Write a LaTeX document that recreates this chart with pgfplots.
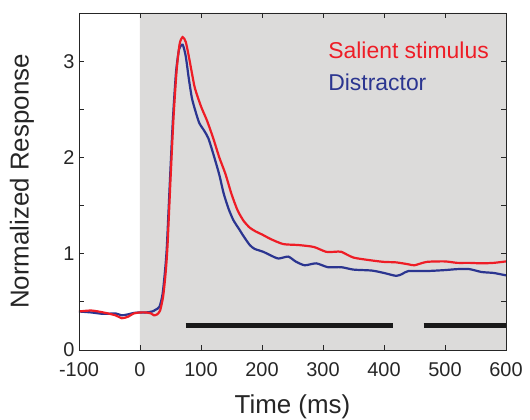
\documentclass[border=0pt]{standalone}
\usepackage{pgfplots}
\pgfplotsset{compat=1.18}
\usepackage{fontspec}
\setmainfont{Liberation Sans}
\definecolor{shade}{HTML}{DCDBDA}
\definecolor{salient}{HTML}{EE1D26}
\definecolor{distr}{HTML}{2B3590}
\begin{document}
\begin{tikzpicture}
\path[use as bounding box] (-79bp,-70bp) rectangle (451bp,350bp);
\begin{axis}[
    scale only axis,
    width=427bp, height=337bp,
    xmin=-100, xmax=600, ymin=0, ymax=3.5,
    axis on top,
    axis line style={line width=0.8bp, black!85},
    tick style={line width=0.8bp, black!85},
    tick align=inside,
    major tick length=5bp,
    xtick={-100,0,100,200,300,400,500,600},
    xticklabels={-100,0,100,200,300,400,500,600},
    ytick={0,0.5,1,1.5,2,2.5,3},
    yticklabels={0,,1,,2,,3},
    ticklabel style={font=\fontsize{20}{24}\selectfont, black!85},
    xticklabel style={yshift=-9bp},
    yticklabel style={xshift=-1bp},
    xlabel={Time (ms)},
    ylabel={Normalized Response},
    label style={font=\fontsize{26}{30}\selectfont, black!85},
    xlabel style={at={(axis description cs:0.5,-0.169)}, anchor=center},
    ylabel style={at={(axis description cs:-0.1335,0.5)}, anchor=center},
]
% stimulus period shading
\addplot[draw=none, fill=shade] coordinates {(0,0) (600,0) (600,3.5) (0,3.5)} \closedcycle;

% significance bars
\addplot[line width=5bp, black!90] coordinates {(75,0.25) (414,0.25)};
\addplot[line width=5bp, black!90] coordinates {(465,0.25) (600,0.25)};

% Distractor
\addplot[distr, line width=2.2bp, smooth, tension=0.4] coordinates {
(-100,0.40) (-80,0.39) (-60,0.375) (-40,0.38) (-30,0.36) (-20,0.37) (-10,0.385) (0,0.39)
(10,0.39) (20,0.40) (26,0.42) (32,0.45) (37,0.58) (41,0.82) (44,1.07) (49,1.75)
(54,2.40) (59,2.88) (64,3.12) (70,3.17) (75,3.05) (80,2.82) (85,2.62) (90,2.50)
(97,2.36) (105,2.28) (112,2.20) (120,2.04) (130,1.82) (137,1.63) (145,1.47) (153,1.35)
(162,1.26) (170,1.18) (180,1.09) (188,1.05) (202,1.02) (215,0.98) (227,0.95) (243,0.97)
(255,0.92) (270,0.88) (289,0.90) (308,0.86) (330,0.86) (350,0.835) (380,0.825) (400,0.80)
(420,0.77) (430,0.79) (440,0.82) (470,0.82) (500,0.83) (520,0.84) (540,0.84) (560,0.81)
(580,0.80) (600,0.775)
};

% Salient stimulus
\addplot[salient, line width=2.2bp, smooth, tension=0.4] coordinates {
(-100,0.40) (-80,0.41) (-60,0.39) (-40,0.36) (-30,0.33) (-20,0.345) (-10,0.38) (0,0.39)
(10,0.39) (18,0.38) (23,0.36) (28,0.37) (33,0.41) (38,0.56) (42,0.80) (45,1.07)
(50,1.77) (55,2.42) (60,2.90) (65,3.18) (70,3.25) (75,3.20) (80,3.05) (85,2.88)
(90,2.72) (100,2.53) (110,2.38) (120,2.20) (130,2.00) (140,1.83) (150,1.62) (160,1.45)
(170,1.34) (180,1.27) (190,1.23) (200,1.20) (215,1.15) (235,1.10) (260,1.09) (285,1.07)
(305,1.02) (320,1.02) (330,1.02) (350,0.96) (380,0.93) (400,0.915) (420,0.91) (440,0.89)
(450,0.88) (470,0.915) (500,0.92) (520,0.905) (540,0.905) (560,0.90) (580,0.905) (600,0.92)
};

\node[anchor=base west, salient, font=\fontsize{23}{27}\selectfont] at (axis cs:303,3.03) {Salient stimulus};
\node[anchor=base west, distr, font=\fontsize{23}{27}\selectfont] at (axis cs:303,2.70) {Distractor};
\end{axis}
\end{tikzpicture}
\end{document}
